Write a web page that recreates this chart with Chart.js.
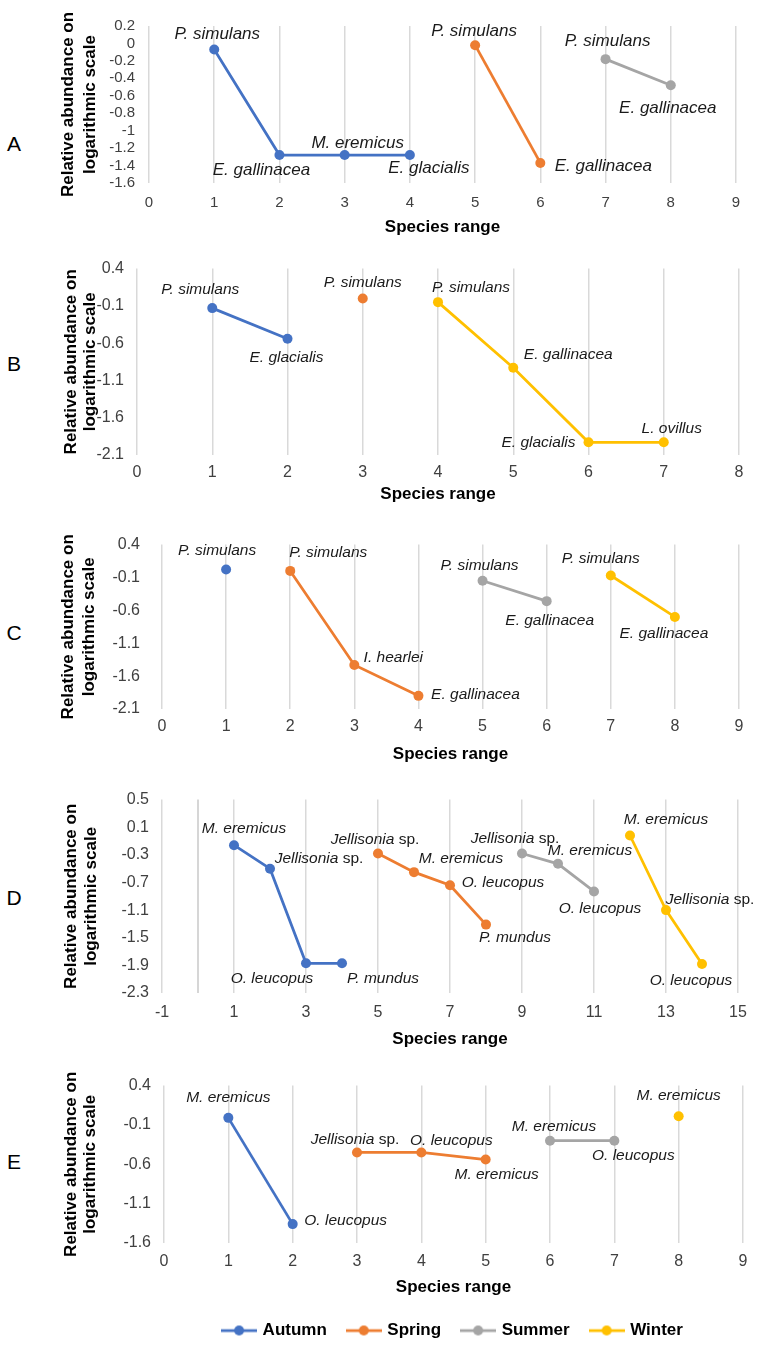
<!DOCTYPE html>
<html>
<head>
<meta charset="utf-8">
<script src="https://cdn.jsdelivr.net/npm/chart.js@4.4.0/dist/chart.umd.min.js"></script>
<style>
  body { margin: 0; background: #fff; width: 762px; height: 1345px; overflow: hidden; position: relative; font-family: "Liberation Sans", Arial, sans-serif; }
  .panel { position: absolute; left: 0; width: 762px; }
  .letter { position: absolute; left: 0; width: 28px; text-align: center; font-size: 21px; line-height: 24px; color: #000; }
</style>
</head>
<body>
<div class="letter" style="top:132px">A</div>
<div class="letter" style="top:352px">B</div>
<div class="letter" style="top:621px">C</div>
<div class="letter" style="top:886px">D</div>
<div class="letter" style="top:1150px">E</div>

<div class="panel" id="wrapA"><canvas id="chartA"></canvas></div>
<div class="panel" id="wrapB"><canvas id="chartB"></canvas></div>
<div class="panel" id="wrapC"><canvas id="chartC"></canvas></div>
<div class="panel" id="wrapD"><canvas id="chartD"></canvas></div>
<div class="panel" id="wrapE"><canvas id="chartE"></canvas></div>

<script>
// --- data ---
const seasons = ['Autumn', 'Spring', 'Summer', 'Winter'];

// Panel A
const aRange = [1, 2, 3, 4, 5, 6, 7, 8];
const aSeason = ['Autumn', 'Autumn', 'Autumn', 'Autumn', 'Spring', 'Spring', 'Summer', 'Summer'];
const aAbund = [-0.07, -1.28, -1.28, -1.28, -0.02, -1.37, -0.18, -0.48];
const aSpecies = ['P. simulans', 'E. gallinacea', 'M. eremicus', 'E. glacialis', 'P. simulans', 'E. gallinacea', 'P. simulans', 'E. gallinacea'];
const aXTicks = [0, 1, 2, 3, 4, 5, 6, 7, 8, 9];
const aYTicks = [-1.6, -1.4, -1.2, -1, -0.8, -0.6, -0.4, -0.2, 0, 0.2];

// Panel B
const bRange = [1, 2, 3, 4, 5, 6, 7];
const bSeason = ['Autumn', 'Autumn', 'Spring', 'Winter', 'Winter', 'Winter', 'Winter'];
const bAbund = [-0.13, -0.54, 0.0, -0.05, -0.93, -1.93, -1.93];
const bSpecies = ['P. simulans', 'E. glacialis', 'P. simulans', 'P. simulans', 'E. gallinacea', 'E. glacialis', 'L. ovillus'];
const bXTicks = [0, 1, 2, 3, 4, 5, 6, 7, 8];
const bYTicks = [-2.1, -1.6, -1.1, -0.6, -0.1, 0.4];

// Panel C
const cRange = [1, 2, 3, 4, 5, 6, 7, 8];
const cSeason = ['Autumn', 'Spring', 'Spring', 'Spring', 'Summer', 'Summer', 'Winter', 'Winter'];
const cAbund = [0.02, 0.0, -1.43, -1.90, -0.15, -0.46, -0.07, -0.70];
const cSpecies = ['P. simulans', 'P. simulans', 'I. hearlei', 'E. gallinacea', 'P. simulans', 'E. gallinacea', 'P. simulans', 'E. gallinacea'];
const cXTicks = [0, 1, 2, 3, 4, 5, 6, 7, 8, 9];
const cYTicks = [-2.1, -1.6, -1.1, -0.6, -0.1, 0.4];

// Panel D
const dRange = [1, 2, 3, 4, 5, 6, 7, 8, 9, 10, 11, 12, 13, 14];
const dSeason = ['Autumn', 'Autumn', 'Autumn', 'Autumn', 'Spring', 'Spring', 'Spring', 'Spring',
                 'Summer', 'Summer', 'Summer', 'Winter', 'Winter', 'Winter'];
const dAbund = [-0.16, -0.50, -1.87, -1.87, -0.28, -0.55, -0.74, -1.31, -0.28, -0.43, -0.83, -0.02, -1.10, -1.88];
const dSpecies = ['M. eremicus', 'Jellisonia sp.', 'O. leucopus', 'P. mundus', 'Jellisonia sp.', 'M. eremicus', 'O. leucopus', 'P. mundus',
                  'Jellisonia sp.', 'M. eremicus', 'O. leucopus', 'M. eremicus', 'Jellisonia sp.', 'O. leucopus'];
const dXTicks = [-1, 1, 3, 5, 7, 9, 11, 13, 15];
const dYTicks = [-2.3, -1.9, -1.5, -1.1, -0.7, -0.3, 0.1, 0.5];

// Panel E
const eRange = [1, 2, 3, 4, 5, 6, 7, 8];
const eSeason = ['Autumn', 'Autumn', 'Spring', 'Spring', 'Spring', 'Summer', 'Summer', 'Winter'];
const eAbund = [-0.01, -1.36, -0.45, -0.45, -0.54, -0.30, -0.30, 0.01];
const eSpecies = ['M. eremicus', 'O. leucopus', 'Jellisonia sp.', 'O. leucopus', 'M. eremicus', 'M. eremicus', 'O. leucopus', 'M. eremicus'];
const eXTicks = [0, 1, 2, 3, 4, 5, 6, 7, 8, 9];
const eYTicks = [-1.6, -1.1, -0.6, -0.1, 0.4];

// --- styling ---
const seasonColors = { Autumn: '#4472C4', Spring: '#ED7D31', Summer: '#A5A5A5', Winter: '#FFC000' };

// label offsets (text centre relative to its point, px)
const aLabelOffsets = [[3, -15], [-18, 15], [13, -12], [19, 13], [-1, -14], [63, 3], [2, -18], [-3, 23]];
const bLabelOffsets = [[-12, -18], [-1, 19], [0, -16], [33, -14], [55, -13], [-50, 0], [8, -14]];
const cLabelOffsets = [[-9, -19], [38, -18], [39, -7], [57, -1], [-3, -15], [3, 20], [-10, -17], [-11, 17]];
const dLabelOffsets = [[10, -16], [49, -10], [-34, 15], [41, 15], [-3, -14], [47, -13], [53, -3], [29, 13],
                       [-7, -15], [32, -13], [6, 17], [36, -16], [44, -10], [-11, 17]];
const eLabelOffsets = [[0, -20], [53, -3], [-2, -13], [30, -12], [11, 15], [4, -14], [19, 15], [0, -21]];

Chart.defaults.font.family = '"Liberation Sans", Arial, sans-serif';
Chart.defaults.animation = false;

function buildDatasets(range, season, abund, species, offsets) {
    return seasons.filter(s => season.includes(s)).map(s => {
        const idx = season.map((v, i) => v === s ? i : -1).filter(i => i >= 0);
        const col = seasonColors[s];
        return {
            label: s,
            data: idx.map(i => ({ x: range[i], y: abund[i] })),
            species: idx.map(i => species[i]),
            offsets: idx.map(i => offsets[i]),
            showLine: true,
            borderColor: col,
            backgroundColor: col,
            pointBackgroundColor: col,
            pointBorderColor: col,
            pointBorderWidth: 0,
            pointRadius: 5,
            pointHoverRadius: 5,
            borderWidth: 2.75
        };
    });
}

// draws the species name next to every point
const pointLabels = {
    id: 'pointLabels',
    afterDatasetsDraw(chart, args, opts) {
        const ctx = chart.ctx;
        const size = opts.size || 15.5;
        const fam = Chart.defaults.font.family;
        ctx.save();
        ctx.fillStyle = '#1a1a1a';
        ctx.textBaseline = 'middle';
        chart.data.datasets.forEach((ds, di) => {
            const meta = chart.getDatasetMeta(di);
            meta.data.forEach((pt, i) => {
                const name = ds.species[i];
                const [dx, dy] = ds.offsets[i];
                const cx = pt.x + dx, cy = pt.y + dy;
                let main = name, tail = '';
                if (name.endsWith(' sp.')) { main = name.slice(0, -4); tail = ' sp.'; }
                ctx.font = 'italic ' + size + 'px ' + fam;
                const w1 = ctx.measureText(main).width;
                ctx.font = size + 'px ' + fam;
                const w2 = tail ? ctx.measureText(tail).width : 0;
                let x = cx - (w1 + w2) / 2;
                ctx.textAlign = 'left';
                ctx.font = 'italic ' + size + 'px ' + fam;
                ctx.fillText(main, x, cy);
                if (tail) {
                    ctx.font = size + 'px ' + fam;
                    ctx.fillText(tail, x + w1, cy);
                }
            });
        });
        ctx.restore();
    }
};

// vertical axis line at x = 0 when 0 is not a gridline
const zeroLine = {
    id: 'zeroLine',
    beforeDatasetsDraw(chart, args, opts) {
        if (!opts.show) return;
        const x = chart.scales.x.getPixelForValue(0);
        const a = chart.chartArea;
        const ctx = chart.ctx;
        ctx.save();
        ctx.strokeStyle = '#c9c9c9';
        ctx.lineWidth = 1.5;
        ctx.beginPath();
        ctx.moveTo(x, a.top);
        ctx.lineTo(x, a.bottom);
        ctx.stroke();
        ctx.restore();
    }
};

function legendIcon(color) {
    const c = document.createElement('canvas');
    c.width = 36; c.height = 12;
    const g = c.getContext('2d');
    g.strokeStyle = color; g.lineWidth = 2.75;
    g.beginPath(); g.moveTo(0, 6); g.lineTo(36, 6); g.stroke();
    g.fillStyle = color;
    g.beginPath(); g.arc(18, 6, 5, 0, Math.PI * 2); g.fill();
    return c;
}
const legendIcons = {};
seasons.forEach(s => legendIcons[s] = legendIcon(seasonColors[s]));

function fmt(v) {
    return String(+Number(v).toFixed(1));
}

function makePanel(id, lay, xTicks, yTicks, datasets, withLegend) {
    const padTop = 12;
    const legendH = withLegend ? 49 : 0;
    const xAxisH = lay.xAxisH;
    const h = padTop + (lay.plotBottom - lay.plotTop) + xAxisH + legendH;
    const wrap = document.getElementById('wrap' + id);
    wrap.style.top = (lay.plotTop - padTop) + 'px';
    wrap.style.height = h + 'px';

    new Chart(document.getElementById('chart' + id), {
        type: 'scatter',
        data: { datasets: datasets },
        options: {
            responsive: true,
            maintainAspectRatio: false,
            layout: { padding: { top: padTop, left: 0, right: 762 - lay.plotRight, bottom: 0 } },
            scales: {
                x: {
                    type: 'linear',
                    min: xTicks[0],
                    max: xTicks[xTicks.length - 1],
                    afterBuildTicks: s => { s.ticks = xTicks.map(v => ({ value: v })); },
                    afterFit: s => { s.height = xAxisH; },
                    grid: { color: '#d9d9d9', lineWidth: 1.5, drawTicks: false },
                    border: { display: false },
                    ticks: { color: '#404040', font: { size: lay.tickSize }, padding: lay.xTickPad, callback: v => fmt(v), autoSkip: false, maxRotation: 0 },
                    title: {
                        display: true, text: 'Species range', color: '#000',
                        font: { size: 17, weight: 'bold', lineHeight: 1.2 },
                        padding: { top: 0, bottom: lay.xTitlePadBottom }
                    }
                },
                y: {
                    type: 'linear',
                    min: yTicks[0],
                    max: yTicks[yTicks.length - 1],
                    afterBuildTicks: s => { s.ticks = yTicks.map(v => ({ value: v })); },
                    afterFit: s => { s.width = lay.plotLeft; },
                    grid: { display: false, drawTicks: false },
                    border: { display: false },
                    ticks: { color: '#404040', font: { size: lay.tickSize }, padding: lay.yTickPad, callback: v => fmt(v), autoSkip: false },
                    title: {
                        display: true, text: ['Relative abundance on', 'logarithmic scale'], color: '#000',
                        font: { size: 17, weight: 'bold', lineHeight: lay.yTitleLH },
                        padding: { top: lay.yTitlePad, bottom: 0 }
                    }
                }
            },
            plugins: {
                legend: withLegend ? {
                    display: true,
                    position: 'bottom',
                    fullSize: false,
                    labels: {
                        usePointStyle: true,
                        pointStyleWidth: 30,
                        padding: 22,
                        color: '#000',
                        font: { size: 17, weight: 'bold' },
                        generateLabels(chart) {
                            const items = Chart.defaults.plugins.legend.labels.generateLabels(chart);
                            items.forEach(it => { it.pointStyle = legendIcons[it.text]; });
                            return items;
                        }
                    }
                } : { display: false },
                tooltip: { enabled: false },
                pointLabels: { size: lay.labelSize },
                zeroLine: { show: !!lay.zeroLine }
            }
        },
        plugins: [pointLabels, zeroLine]
    });
}

makePanel('A', { plotTop: 15, plotBottom: 183, plotLeft: 149, plotRight: 736, yTickPad: 14, yTitlePad: 57, yTitleLH: 1.3, xTickPad: 11, xAxisH: 55, xTitlePadBottom: 0, tickSize: 15, labelSize: 17 },
    aXTicks, aYTicks, buildDatasets(aRange, aSeason, aAbund, aSpecies, aLabelOffsets), false);
makePanel('B', { plotTop: 258, plotBottom: 455, plotLeft: 137, plotRight: 739, yTickPad: 13, yTitlePad: 62, yTitleLH: 1.1, xTickPad: 8, xAxisH: 50, xTitlePadBottom: 0, tickSize: 16, labelSize: 15.5 },
    bXTicks, bYTicks, buildDatasets(bRange, bSeason, bAbund, bSpecies, bLabelOffsets), false);
makePanel('C', { plotTop: 525, plotBottom: 709, plotLeft: 162, plotRight: 739, yTickPad: 22, yTitlePad: 57, yTitleLH: 1.28, xTickPad: 8, xAxisH: 56, xTitlePadBottom: 0, tickSize: 16, labelSize: 15.5 },
    cXTicks, cYTicks, buildDatasets(cRange, cSeason, cAbund, cSpecies, cLabelOffsets), false);
makePanel('D', { plotTop: 789, plotBottom: 993, plotLeft: 162, plotRight: 738, yTickPad: 13, yTitlePad: 61, yTitleLH: 1.18, xTickPad: 10, xAxisH: 57, xTitlePadBottom: 0, tickSize: 16, labelSize: 15.5, zeroLine: true },
    dXTicks, dYTicks, buildDatasets(dRange, dSeason, dAbund, dSpecies, dLabelOffsets), false);
makePanel('E', { plotTop: 1075, plotBottom: 1243, plotLeft: 164, plotRight: 743, yTickPad: 13, yTitlePad: 62, yTitleLH: 1.1, xTickPad: 9, xAxisH: 57, xTitlePadBottom: 2, tickSize: 16, labelSize: 15.5 },
    eXTicks, eYTicks, buildDatasets(eRange, eSeason, eAbund, eSpecies, eLabelOffsets), true);
</script>
</body>
</html>
